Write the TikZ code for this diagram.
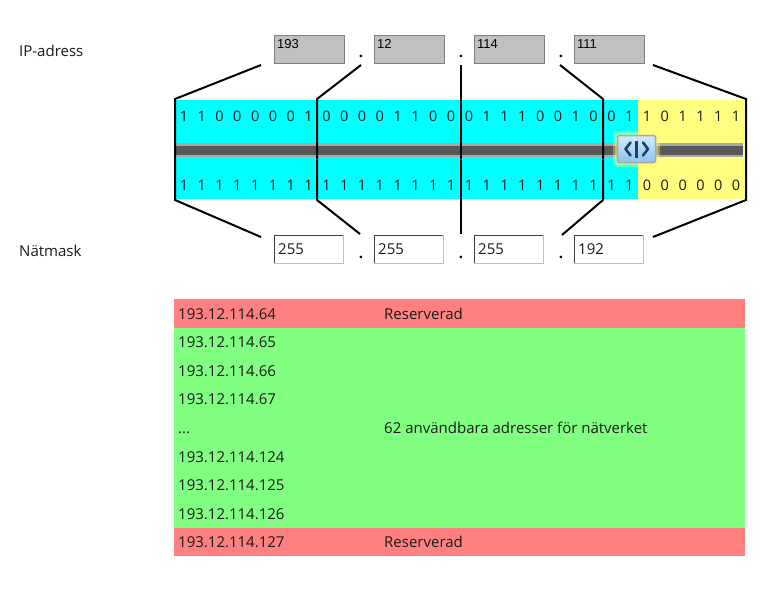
\documentclass[tikz,border=0pt]{standalone}
\usepackage{fontspec}
\setmainfont{Open Sans}
\newfontfamily\arialf{Liberation Sans}
\usetikzlibrary{calc}
\definecolor{ipgray}{HTML}{C0C0C0}
\definecolor{ipborder}{HTML}{808080}
\definecolor{cyanc}{HTML}{00FFFF}
\definecolor{yellowc}{HTML}{FFFF80}
\definecolor{redc}{HTML}{FF8080}
\definecolor{greenc}{HTML}{80FF80}
\definecolor{barlight}{HTML}{A8A8A8}
\definecolor{bardark}{HTML}{585858}
\definecolor{thumbtop}{HTML}{D4EAFA}
\definecolor{thumbbot}{HTML}{8CC4EE}
\definecolor{thumbsym}{HTML}{1C3E6E}
\definecolor{txt}{HTML}{1A1A1A}
\def\myellip{...}
\begin{document}
\begin{tikzpicture}[x=1pt,y=-1pt,
  bracket/.style={draw=black, line width=2pt, line join=miter},
  ipbox/.style={draw=ipborder, fill=ipgray, line width=1pt, minimum width=70pt, minimum height=28pt, inner sep=0pt, anchor=north west},
  maskbox/.style={draw=none, fill=white, minimum width=69pt, minimum height=28pt, inner sep=0pt, anchor=north west},
  boxtxt/.style={anchor=base west, inner sep=0pt, font=\arialf\fontsize{13}{14}\selectfont, text=black},
  masktxt/.style={anchor=base west, inner sep=0pt, font=\fontsize{15}{16}\selectfont, text=txt},
  bit/.style={anchor=base, inner sep=0pt, font=\fontsize{14.5}{16}\selectfont, text=txt},
  lbl/.style={anchor=base west, inner sep=0pt, font=\fontsize{15}{16}\selectfont, text=txt},
  dotc/.style={anchor=base, inner sep=0pt, font=\bfseries\fontsize{15}{16}\selectfont, text=black},
  rowtxt/.style={anchor=base west, inner sep=0pt, font=\fontsize{15}{16}\selectfont, text=txt},
  ]
\useasboundingbox (0,0) rectangle (775,592);
\fill[white] (0,0) rectangle (775,592);

% labels
\node[lbl] (iplbl) at (19,56) {IP-adress};
\node[lbl] (masklbl) at (19,256) {Nätmask};

% IP boxes
\foreach \x/\v [count=\k] in {274/193,374/12,474/114,574/111}{
  \node[ipbox] (ipb\k) at (\x,35) {};
  \node[boxtxt] (ipt\k) at (\x+3,48) {\v};
}
% mask boxes
\foreach \x/\v [count=\k] in {274/255,374/255,474/255,574/192}{
  \node[maskbox] (mb\k) at (\x,235) {};
  \draw[draw=black!75, line width=1pt] (mb\k.south west) -- (mb\k.north west) -- (mb\k.north east);
  \draw[draw=ipgray, line width=1pt] (mb\k.north east) -- (mb\k.south east) -- (mb\k.south west);
  \node[masktxt] (mt\k) at (\x+4,254) {\v};
}
% dots
\foreach \x [count=\k] in {361,461,561}{
  \node[dotc] (td\k) at (\x,57) {.};
  \node[dotc] (bd\k) at (\x,258) {.};
}

% bit area
\fill[cyanc] (175,100) rectangle (638,199);
\fill[yellowc] (638,100) rectangle (745,199);

% bits
\foreach \b [count=\i from 0] in {1,1,0,0,0,0,0,1, 0,0,0,0,1,1,0,0, 0,1,1,1,0,0,1,0, 0,1,1,0,1,1,1,1}{
  \node[bit] (ip\i) at ({175+(\i+0.5)*17.8125},121) {\b};
}
\foreach \b [count=\i from 0] in {1,1,1,1,1,1,1,1, 1,1,1,1,1,1,1,1, 1,1,1,1,1,1,1,1, 1,1,0,0,0,0,0,0}{
  \node[bit] (nm\i) at ({175+(\i+0.5)*17.8125},190) {\b};
}

% slider bar
\fill[barlight] (175,143) rectangle (743,157);
\fill[bardark] (175,145.5) rectangle (743,154.5);

% brackets
\coordinate (t1) at (261,65); \coordinate (t2) at (361,65); \coordinate (t3) at (461,65);
\coordinate (t4) at (560,65); \coordinate (t5) at (653,65);
\coordinate (b1) at (261,237); \coordinate (b2) at (360,234); \coordinate (b3) at (461,234);
\coordinate (b4) at (562,235); \coordinate (b5) at (653,237);
\draw[bracket] (t1) -- (175,99) -- (175,200) -- (b1);
\draw[bracket] (t2) -- (317,99) -- (317,200) -- (b2);
\draw[bracket] (t3) -- (b3);
\draw[bracket] (t4) -- (603,99) -- (603,200) -- (b4);
\draw[bracket] (t5) -- (746,99) -- (746,200) -- (b5);

% thumb
\fill[yellow!60, opacity=0.35, rounded corners=4pt] (613,131) rectangle (660,167);
\fill[yellow!40, opacity=0.4, rounded corners=3pt] (615,133) rectangle (658,165);
\node[draw=barlight, line width=1.5pt, rounded corners=1.5pt, top color=thumbtop, bottom color=thumbbot, minimum width=38pt, minimum height=27pt, inner sep=0pt] (thumb) at (636.5,149) {};
\draw[thumbsym, line width=2.6pt, line cap=round, line join=round] (630.5,142.5) -- (625.5,149) -- (630.5,155.5);
\draw[thumbsym, line width=2.6pt, line cap=round, line join=round] (643,142.5) -- (648,149) -- (643,155.5);
\draw[thumbsym, line width=2.6pt] (636.5,140.5) -- (636.5,157.5);

% address list
\def\rh{28.6}
\foreach \t/\c/\s [count=\k from 0] in {193.12.114.64/redc/Reserverad, 193.12.114.65/greenc/, 193.12.114.66/greenc/, 193.12.114.67/greenc/, \myellip/greenc/62 användbara adresser för nätverket, 193.12.114.124/greenc/, 193.12.114.125/greenc/, 193.12.114.126/greenc/, 193.12.114.127/redc/Reserverad}{
  \fill[\c] (174,{299+\k*\rh}) rectangle (745,{299+(\k+1)*\rh});
  \node[rowtxt] (ra\k) at (178,{299+\k*\rh+20}) {\t};
  \node[rowtxt] (rb\k) at (384,{299+\k*\rh+20}) {\s};
}
\end{tikzpicture}
\end{document}
